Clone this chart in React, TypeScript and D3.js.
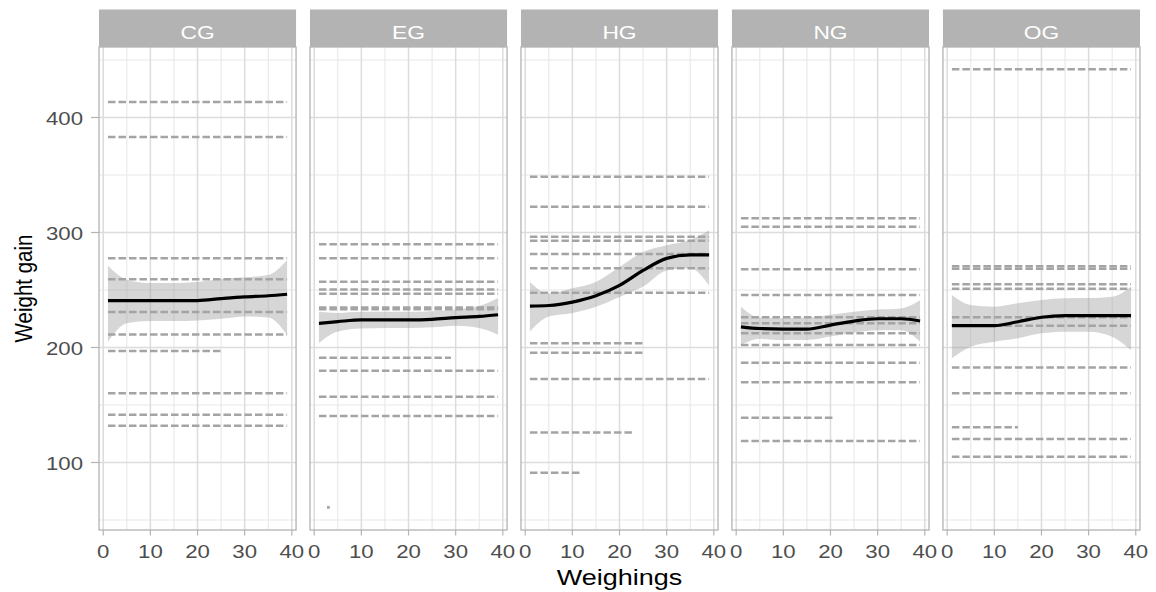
import React from "react";
import * as d3 from "d3";

const groups = ["CG", "EG", "HG", "NG", "OG"];
const weighingTicks = [0, 10, 20, 30, 40];
const weighingMinor = [5, 15, 25, 35];
const gainTicks = [100, 200, 300, 400];
const gainMinor = [50, 150, 250, 350, 450];

// one row per animal: [gain, first weighing, last weighing]
const cgAnimals = [
  [413.5, 1, 39], [383, 1, 39], [277.5, 1, 39], [259.3, 1, 39], [230.8, 1, 39],
  [211.2, 1, 39], [197, 1, 25], [160.2, 1, 39], [141.6, 1, 39], [132, 1, 39],
];
const egAnimals = [
  [289.7, 1, 39], [277.6, 1, 39], [257.2, 1, 39], [250.5, 1, 39], [246.7, 1, 39],
  [234.8, 1, 39], [233.2, 1, 39], [191, 1, 29], [179.8, 1, 39], [157.2, 1, 39],
  [140.4, 1, 39], [61, 3, 3],
];
const hgAnimals = [
  [348.5, 1, 39], [322.4, 1, 39], [296.3, 1, 39], [292.9, 1, 39], [281.3, 1, 39],
  [268.9, 1, 39], [247.7, 1, 39], [203.6, 1, 25], [195.5, 1, 25], [172.6, 1, 39],
  [126, 1, 23], [91.1, 1, 12],
];
const ngAnimals = [
  [312.3, 1, 39], [305, 1, 39], [268, 1, 39], [245.7, 1, 39], [226.3, 1, 39],
  [221, 1, 39], [212.3, 1, 39], [202.2, 1, 39], [186.8, 1, 39], [169.7, 1, 39],
  [139, 1, 21], [118.7, 1, 39],
];
const ogAnimals = [
  [441.9, 1, 39], [270.6, 1, 39], [268.4, 1, 39], [255, 1, 39], [251, 1, 39],
  [226.3, 1, 39], [219, 1, 39], [182.5, 1, 39], [160.2, 1, 39], [130.6, 1, 15],
  [120.4, 1, 39], [105, 1, 39],
];

// smoothed fit with its confidence band, read at these weighings
const fitWeighings = [1, 5, 10, 15, 20, 25, 30, 35, 39];
const cgFit = [240.7, 240.7, 240.7, 240.7, 240.8, 242.5, 244, 245, 246.3];
const cgUpper = [271, 259, 256, 256, 257, 259.5, 261, 263, 276];
const cgLower = [205, 221, 223, 223, 223.5, 225, 227, 226, 211];
const egFit = [221, 222.5, 224, 224, 224, 224.5, 226, 227, 228.5];
const egUpper = [231, 230, 231, 231, 231, 231.5, 233, 236, 243];
const egLower = [204, 214, 216.5, 217, 217, 217.5, 219, 217, 211];
const hgFit = [236, 236.5, 239.5, 245, 254, 267, 277.5, 280.5, 280.5];
const hgUpper = [257, 247, 251.5, 257, 270, 283, 289, 293.5, 302];
const hgLower = [214, 227, 230, 235.5, 244, 253, 267, 269, 254];
const ngFit = [218, 216.5, 216, 216, 219.5, 223, 225, 225, 223];
const ngUpper = [235.5, 226, 225.5, 226, 228.5, 231, 233, 234, 241];
const ngLower = [202, 207.5, 206.5, 206.5, 209.5, 213, 215, 215, 205];
const ogFit = [219, 219, 219, 222.4, 226.3, 227.7, 227.7, 227.7, 227.7];
const ogUpper = [245.7, 237, 235.5, 238.4, 241.3, 242.8, 243, 244.2, 252.8];
const ogLower = [190.6, 200.7, 205, 208, 212.3, 213.8, 213.8, 209.4, 197.8];

const animalsByGroup = { CG: cgAnimals, EG: egAnimals, HG: hgAnimals, NG: ngAnimals, OG: ogAnimals };
const fitByGroup = {
  CG: [cgFit, cgUpper, cgLower],
  EG: [egFit, egUpper, egLower],
  HG: [hgFit, hgUpper, hgLower],
  NG: [ngFit, ngUpper, ngLower],
  OG: [ogFit, ogUpper, ogLower],
};

const W = 1156;
const H = 592;
const panelTop = 47;
const panelBottom = 530;
const stripTop = 9.5;
const font = "'Liberation Sans', Arial, sans-serif";
const stretch = 1.2;

const Panel = ({ group, left, width, y }) => {
  const x = d3.scaleLinear().domain([-0.9, 40.9]).range([0, width]);
  const [fit, upper, lower] = fitByGroup[group];
  const pts = fitWeighings.map((w, i) => ({ w, f: fit[i], u: upper[i], l: lower[i] }));
  const band = d3.area<any>().x((d) => x(d.w)).y0((d) => y(d.l)).y1((d) => y(d.u)).curve(d3.curveMonotoneX);
  const line = d3.line<any>().x((d) => x(d.w)).y((d) => y(d.f)).curve(d3.curveMonotoneX);

  return (
    <g transform={`translate(${left},0)`}>
      <rect x={0} y={panelTop} width={width} height={panelBottom - panelTop} fill="#fff" />
      {gainMinor.map((v) => (
        <line key={"ym" + v} x1={0} x2={width} y1={y(v)} y2={y(v)} stroke="#e8e8e8" strokeWidth={1.1} />
      ))}
      {weighingMinor.map((v) => (
        <line key={"xm" + v} x1={x(v)} x2={x(v)} y1={panelTop} y2={panelBottom} stroke="#e8e8e8" strokeWidth={1.1} />
      ))}
      {gainTicks.map((v) => (
        <line key={"y" + v} x1={0} x2={width} y1={y(v)} y2={y(v)} stroke="#dcdcdc" strokeWidth={1.5} />
      ))}
      {weighingTicks.map((v) => (
        <line key={"x" + v} x1={x(v)} x2={x(v)} y1={panelTop} y2={panelBottom} stroke="#dcdcdc" strokeWidth={1.5} />
      ))}
      <path d={band(pts)} fill="#999999" fillOpacity={0.4} />
      {animalsByGroup[group].map(([g, a, b], i) =>
        a === b ? (
          <rect key={i} x={x(a) - 1.4} y={y(g) - 1.4} width={2.8} height={2.8} fill="#a4a4a4" />
        ) : (
          <line key={i} x1={x(a)} x2={x(b)} y1={y(g)} y2={y(g)} stroke="#a4a4a4"
            strokeWidth={2.5} strokeDasharray="7.5,3" />
        )
      )}
      <path d={line(pts)} fill="none" stroke="#000" strokeWidth={3.2} />
      <rect x={0} y={panelTop} width={width} height={panelBottom - panelTop} fill="none"
        stroke="#b3b3b3" strokeWidth={1.3} />
      {/* strip */}
      <rect x={0} y={stripTop} width={width} height={panelTop - stripTop} fill="#b3b3b3" />
      <text transform={`translate(${width / 2},39) scale(${stretch},1)`} textAnchor="middle"
        fontFamily={font} fontSize={19} fill="#ffffff">{group}</text>
      {/* x axis */}
      {weighingTicks.map((v) => (
        <g key={"t" + v}>
          <line x1={x(v)} x2={x(v)} y1={panelBottom} y2={panelBottom + 5.5} stroke="#b3b3b3" strokeWidth={1.2} />
          <text transform={`translate(${x(v)},558) scale(${stretch},1)`} textAnchor="middle"
            fontFamily={font} fontSize={18.5} fill="#4d4d4d">{v}</text>
        </g>
      ))}
    </g>
  );
};

export default function App() {
  const panels = d3.scaleBand().domain(groups).range([99, 1140]).paddingInner(0.066);
  const y = d3.scaleLinear().domain([41.3, 461.3]).range([panelBottom, panelTop]);
  const left = panels("CG");
  const areaMid = (99 + 1140) / 2;

  return (
    <svg width={W} height={H} style={{ position: "absolute", left: 0, top: 0, background: "#fff" }}>
      {groups.map((g) => (
        <Panel key={g} group={g} left={panels(g)} width={panels.bandwidth()} y={y} />
      ))}
      {gainTicks.map((v) => (
        <g key={v}>
          <line x1={left - 8} x2={left} y1={y(v)} y2={y(v)} stroke="#b3b3b3" strokeWidth={1.2} />
          <text transform={`translate(${left - 16},${y(v) + 8}) scale(${stretch},1)`} textAnchor="end"
            fontFamily={font} fontSize={18.5} fill="#4d4d4d">{v}</text>
        </g>
      ))}
      <text transform={`translate(32,${(panelTop + panelBottom) / 2}) scale(${stretch},1) rotate(-90)`}
        textAnchor="middle" fontFamily={font} fontSize={20.5} fill="#000">Weight gain</text>
      <text transform={`translate(${areaMid},585) scale(${stretch},1)`} textAnchor="middle"
        fontFamily={font} fontSize={22.5} fill="#000">Weighings</text>
    </svg>
  );
}
